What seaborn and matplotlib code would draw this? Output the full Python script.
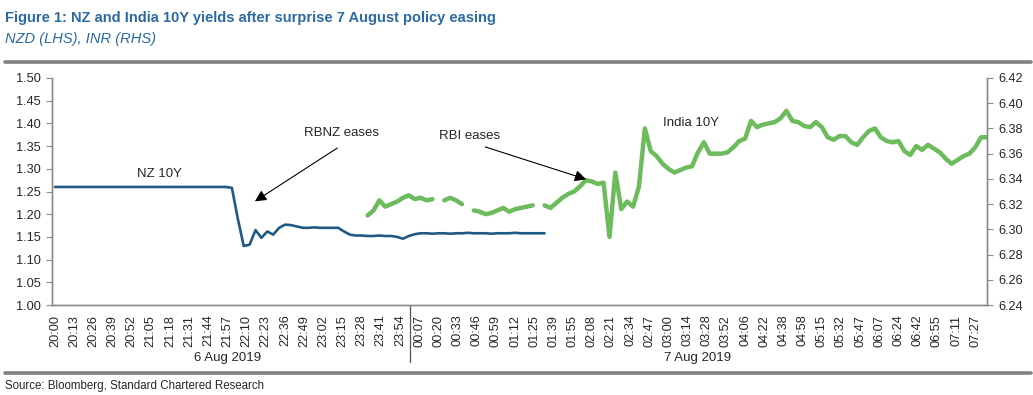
import numpy as np
import pandas as pd
import matplotlib
matplotlib.use("Agg")
import matplotlib.pyplot as plt
from matplotlib import font_manager
from matplotlib.lines import Line2D
from matplotlib.ticker import FormatStrFormatter
import seaborn as sns

nan = float("nan")

# x-axis labels, one every 13 observations (intraday quotes)
tick_labels = [
    "20:00", "20:13", "20:26", "20:39", "20:52", "21:05", "21:18", "21:31", "21:44", "21:57",
    "22:10", "22:23", "22:36", "22:49", "23:02", "23:15", "23:28", "23:41", "23:54",
    "00:07", "00:20", "00:33", "00:46", "00:59", "01:12", "01:25", "01:39", "01:55", "02:08",
    "02:21", "02:34", "02:47", "03:00", "03:14", "03:28", "03:52", "04:06", "04:22", "04:38",
    "04:58", "05:15", "05:32", "05:47", "06:07", "06:24", "06:42", "06:55", "07:11", "07:27",
]
day_labels = ["6 Aug 2019", "7 Aug 2019"]
day_first_tick = [0, 19]

# NZ 10Y yield (LHS), every 4th observation from 20:00
nz_10y = [
    1.26, 1.26, 1.26, 1.26, 1.26, 1.26, 1.26, 1.26, 1.26, 1.26,
    1.26, 1.26, 1.26, 1.26, 1.26, 1.26, 1.26, 1.26, 1.26, 1.26,
    1.26, 1.26, 1.26, 1.26, 1.26, 1.26, 1.26, 1.26, 1.26, 1.26,
    1.258, 1.19, 1.13, 1.133, 1.165, 1.148, 1.162, 1.155, 1.170, 1.177,
    1.176, 1.173, 1.170, 1.170, 1.171, 1.170, 1.170, 1.170, 1.170, 1.162,
    1.155, 1.153, 1.153, 1.152, 1.152, 1.153, 1.152, 1.152, 1.150, 1.146,
    1.152, 1.156, 1.158, 1.158, 1.157, 1.158, 1.158, 1.157, 1.158, 1.158,
    1.159, 1.158, 1.158, 1.158, 1.157, 1.158, 1.158, 1.158, 1.159, 1.158,
    1.158, 1.158, 1.158, 1.158,
]

# India 10Y yield (RHS), every 4th observation from obs 212; nan = no quote
india_10y = [
    6.311, 6.315, 6.323, 6.318, 6.320, 6.322, 6.325, 6.327, 6.324, 6.325,
    6.323, 6.324, nan, 6.323, 6.325, 6.323, 6.320, nan, 6.315, 6.314,
    6.312, 6.313, 6.315, 6.317, 6.314, 6.316, 6.317, 6.318, 6.319, nan,
    6.319, 6.317, 6.321, 6.325, 6.328, 6.330, 6.334, 6.339, 6.338, 6.336,
    6.337, 6.294, 6.345, 6.316, 6.322, 6.318, 6.334, 6.380, 6.362, 6.358,
    6.352, 6.348, 6.345, 6.347, 6.349, 6.350, 6.361, 6.369, 6.360, 6.360,
    6.360, 6.361, 6.365, 6.370, 6.372, 6.386, 6.381, 6.383, 6.384, 6.385,
    6.388, 6.394, 6.386, 6.385, 6.382, 6.381, 6.385, 6.381, 6.373, 6.371,
    6.374, 6.374, 6.369, 6.367, 6.373, 6.378, 6.380, 6.373, 6.370, 6.369,
    6.370, 6.362, 6.359, 6.366, 6.363, 6.367, 6.364, 6.361, 6.356, 6.352,
    6.355, 6.358, 6.360, 6.365, 6.373, 6.373,
]

STEP = 4
INDIA_START = 212
TICK_EVERY = 13

NZ_COLOR = "#1f5a85"
IN_COLOR = "#6cbb5c"
TITLE_COLOR = "#2b6aa3"
RULE_COLOR = "#808080"
SPINE_COLOR = "#8a8a8a"

sns.set_style("white")
plt.rcParams["font.family"] = ["Liberation Sans", "DejaVu Sans"]
installed = {f.name for f in font_manager.fontManager.ttflist}
if "Liberation Sans Narrow" in installed:
    title_font, title_size = "Liberation Sans Narrow", 12.7
else:
    title_font, title_size = "Liberation Sans", 10.5

nz_df = pd.DataFrame({"obs": np.arange(len(nz_10y)) * STEP, "yield": nz_10y})
in_df = pd.DataFrame({"obs": INDIA_START + np.arange(len(india_10y)) * STEP,
                      "yield": india_10y})
in_df["seg"] = in_df["yield"].isna().cumsum()
in_df = in_df.dropna()

fig = plt.figure(figsize=(10.33, 3.95), dpi=100)
ax = fig.add_axes([52 / 1033, 1 - 305 / 395, 935 / 1033, 227 / 395])
ax2 = ax.twinx()

sns.lineplot(data=nz_df, x="obs", y="yield", ax=ax, color=NZ_COLOR, linewidth=1.9)
sns.lineplot(data=in_df, x="obs", y="yield", units="seg", estimator=None, ax=ax2,
             color=IN_COLOR, linewidth=3.2, solid_joinstyle="round", solid_capstyle="round")

n_ticks = len(tick_labels)
ax.set_xlim(-2, 632)
ax.set_xticks(np.arange(n_ticks) * TICK_EVERY)
ax.set_xticklabels(tick_labels, rotation=90, fontsize=9.2)
ax.tick_params(axis="x", length=0, pad=7)

ax.set_ylim(1.0, 1.5)
ax.set_yticks(np.round(np.arange(1.0, 1.501, 0.05), 2))
ax.yaxis.set_major_formatter(FormatStrFormatter("%.2f"))
ax.tick_params(axis="y", direction="out", length=4, width=0.8, color=SPINE_COLOR,
               labelsize=9.2, pad=4, left=True)

ax2.set_ylim(6.24, 6.42)
ax2.set_yticks(np.round(np.arange(6.24, 6.4201, 0.02), 2))
ax2.yaxis.set_major_formatter(FormatStrFormatter("%.2f"))
ax2.tick_params(axis="y", direction="out", length=4, width=0.8, color=SPINE_COLOR,
                labelsize=9.2, pad=4, right=True)

for a in (ax, ax2):
    a.set_xlabel("")
    a.set_ylabel("")
    a.spines["top"].set_visible(False)
    for s in ("left", "right", "bottom"):
        a.spines[s].set_color(SPINE_COLOR)
        a.spines[s].set_linewidth(1.0)
    a.grid(False)

# day separator and day labels below the time ticks
xtr = ax.get_xaxis_transform()
sep = (day_first_tick[1] - 0.5) * TICK_EVERY
ax.add_line(Line2D([sep, sep], [0, -0.252], transform=xtr, color="#555555",
                   linewidth=0.9, clip_on=False))
day_bounds = [(day_first_tick[0], day_first_tick[1] - 1), (day_first_tick[1], n_ticks - 1)]
for lab, (a0, a1) in zip(day_labels, day_bounds):
    ax.text((a0 + a1) / 2 * TICK_EVERY, -0.235, lab, transform=xtr, ha="center",
            va="center", fontsize=9.5)

# annotations
ax.text(71, 1.289, "NZ 10Y", ha="center", va="center", fontsize=9.5)
ax.text(194, 1.379, "RBNZ eases", ha="center", va="center", fontsize=9.5)
ax.annotate("", xy=(134, 1.225), xytext=(193, 1.349),
            arrowprops=dict(arrowstyle="-|>", color="black", lw=0.8, mutation_scale=17))
ax2.text(281, 6.374, "RBI eases", ha="center", va="center", fontsize=9.5)
ax2.annotate("", xy=(362, 6.339), xytext=(290, 6.366),
             arrowprops=dict(arrowstyle="-|>", color="black", lw=0.8, mutation_scale=17))
ax2.text(431, 6.384, "India 10Y", ha="center", va="center", fontsize=9.5)

# header, rules and source
fig.text(5 / 1033, 1 - 18 / 395, "Figure 1: NZ and India 10Y yields after surprise 7 August policy easing",
         family=[title_font, "DejaVu Sans"], fontsize=title_size, fontweight="bold",
         color=TITLE_COLOR, va="center", ha="left")
fig.text(5 / 1033, 1 - 39 / 395, "NZD (LHS), INR (RHS)", fontsize=10.5, style="italic",
         color=TITLE_COLOR, va="center", ha="left")
for yy in (1 - 62 / 395, 1 - 373 / 395):
    fig.add_artist(Line2D([5 / 1033, 1031 / 1033], [yy, yy], transform=fig.transFigure,
                          color=RULE_COLOR, linewidth=2.6))
fig.text(5 / 1033, 1 - 386 / 395, "Source: Bloomberg, Standard Chartered Research",
         fontsize=8.3, va="center", ha="left")

fig.savefig("out.png", dpi=100)
